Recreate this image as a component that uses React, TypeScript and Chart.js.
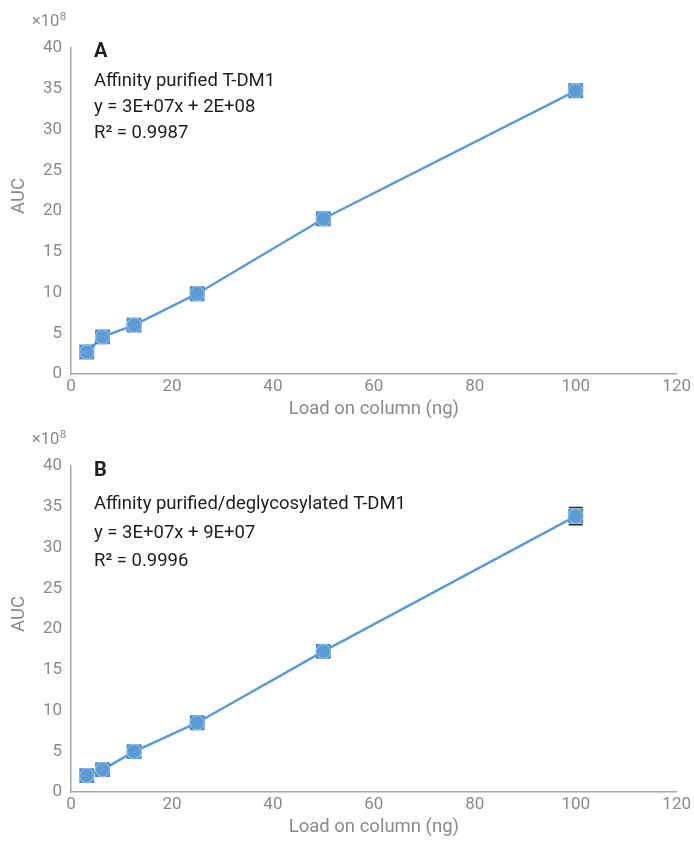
import React, { useEffect, useRef } from "react";
import { Chart, registerables } from "chart.js";
Chart.register(...registerables);

const loads = [3.125, 6.25, 12.5, 25, 50, 100];
const aucA = [2.7, 4.55, 6.0, 9.85, 19.05, 34.75];
const errA = [0.2, 0.2, 0.2, 0.2, 0.3, 0.4];
const aucB = [2.0, 2.75, 4.95, 8.5, 17.25, 33.85];
const errB = [0.2, 0.2, 0.2, 0.2, 0.3, 1.05];
const xTicks = [0, 20, 40, 60, 80, 100, 120];
const yTicks = [0, 5, 10, 15, 20, 25, 30, 35, 40];

const labelA = ["A", "Affinity purified T-DM1", "y = 3E+07x + 2E+08", "R² = 0.9987"];
const labelB = ["B", "Affinity purified/deglycosylated T-DM1", "y = 3E+07x + 9E+07", "R² = 0.9996"];

const FONT = "Roboto, 'Noto Sans', sans-serif";
const GRAY = "#8a8a8a";

function Panel({ values, errors, lines, offsets }: { values: number[]; errors: number[]; lines: string[]; offsets: number[] }) {
  const ref = useRef<HTMLCanvasElement>(null);
  useEffect(() => {
    const pts = loads.map((x, i) => ({ x, y: values[i] }));
    const overlay = {
      id: "overlay",
      beforeDatasetsDraw(chart: any) {
        const { ctx, scales } = chart;
        ctx.save();
        ctx.strokeStyle = "#2b2b2b";
        ctx.lineWidth = 1.5;
        loads.forEach((x, i) => {
          const px = scales.x.getPixelForValue(x);
          const y1 = scales.y.getPixelForValue(values[i] + errors[i]);
          const y2 = scales.y.getPixelForValue(values[i] - errors[i]);
          ctx.beginPath();
          ctx.moveTo(px, y1);
          ctx.lineTo(px, y2);
          ctx.moveTo(px - 7, y1);
          ctx.lineTo(px + 7, y1);
          ctx.moveTo(px - 7, y2);
          ctx.lineTo(px + 7, y2);
          ctx.stroke();
        });
        ctx.restore();
      },
      afterDraw(chart: any) {
        const { ctx, chartArea } = chart;
        ctx.save();
        ctx.fillStyle = GRAY;
        ctx.font = `16.5px ${FONT}`;
        ctx.textBaseline = "middle";
        ctx.textAlign = "left";
        ctx.fillText("×10", 32, chartArea.top - 26);
        const w = ctx.measureText("×10").width;
        ctx.font = `11.5px ${FONT}`;
        ctx.fillText("8", 32 + w + 0.5, chartArea.top - 31);
        ctx.font = `18.5px ${FONT}`;
        ctx.translate(19, chartArea.top + 148);
        ctx.rotate(-Math.PI / 2);
        ctx.textAlign = "center";
        ctx.fillText("AUC", 0, 0);
        ctx.restore();
        ctx.save();
        ctx.fillStyle = "#1e1e1e";
        ctx.textBaseline = "middle";
        ctx.textAlign = "left";
        lines.forEach((t, i) => {
          ctx.font = i === 0 ? `bold 20px ${FONT}` : `18.5px ${FONT}`;
          ctx.fillText(t, 94, chartArea.top + offsets[i]);
        });
        ctx.restore();
      },
    };
    const chart = new Chart(ref.current!, {
      type: "scatter",
      data: {
        datasets: [
          {
            data: pts,
            order: 2,
            showLine: true,
            borderColor: "#5b9bd5",
            borderWidth: 2.5,
            pointStyle: "rect",
            pointRadius: 10.5,
            pointBackgroundColor: "#4a86c8",
            pointBorderColor: "#4a86c8",
            pointBorderWidth: 0,
          },
          {
            data: pts,
            order: 1,
            showLine: false,
            pointStyle: "circle",
            pointRadius: 7.2,
            pointBackgroundColor: "#5c9bd6",
            pointBorderColor: "#8fbbe6",
            pointBorderWidth: 1.2,
          },
        ],
      },
      options: {
        animation: false,
        responsive: false,
        events: [],
        layout: { padding: { left: 0, right: 16, top: 48, bottom: 0 } },
        plugins: { legend: { display: false }, tooltip: { enabled: false } },
        scales: {
          x: {
            type: "linear",
            min: 0,
            max: 120,
            afterBuildTicks: (s: any) => {
              s.ticks = xTicks.map((v) => ({ value: v }));
            },
            afterFit: (s: any) => {
              s.height = 46;
            },
            grid: { display: false, drawTicks: false },
            border: { display: true, color: "#a6a6a6", width: 1.5 },
            ticks: { color: GRAY, font: { family: FONT, size: 17 }, padding: 3, maxRotation: 0 },
            title: { display: true, text: "Load on column (ng)", color: GRAY, font: { family: FONT, size: 18.5 }, padding: { top: 2, bottom: 0 } },
          },
          y: {
            type: "linear",
            min: 0,
            max: 40,
            afterBuildTicks: (s: any) => {
              s.ticks = yTicks.map((v) => ({ value: v }));
            },
            afterFit: (s: any) => {
              s.width = 71;
            },
            grid: { display: false, drawTicks: false },
            border: { display: true, color: "#a6a6a6", width: 1.5 },
            ticks: { color: GRAY, font: { family: FONT, size: 17 }, padding: 9 },
          },
        },
      },
      plugins: [overlay],
    });
    return () => chart.destroy();
  }, []);
  return <canvas ref={ref} width={694} height={420} style={{ display: "block", width: 694, height: 420 }} />;
}

export default function App() {
  return (
    <div style={{ position: "absolute", left: 0, top: 0, width: 694, height: 841, background: "#fff" }}>
      <Panel values={aucA} errors={errA} lines={labelA} offsets={[4, 33, 59, 85]} />
      <div style={{ marginTop: -2 }}>
        <Panel values={aucB} errors={errB} lines={labelB} offsets={[5, 38, 67, 95]} />
      </div>
    </div>
  );
}
